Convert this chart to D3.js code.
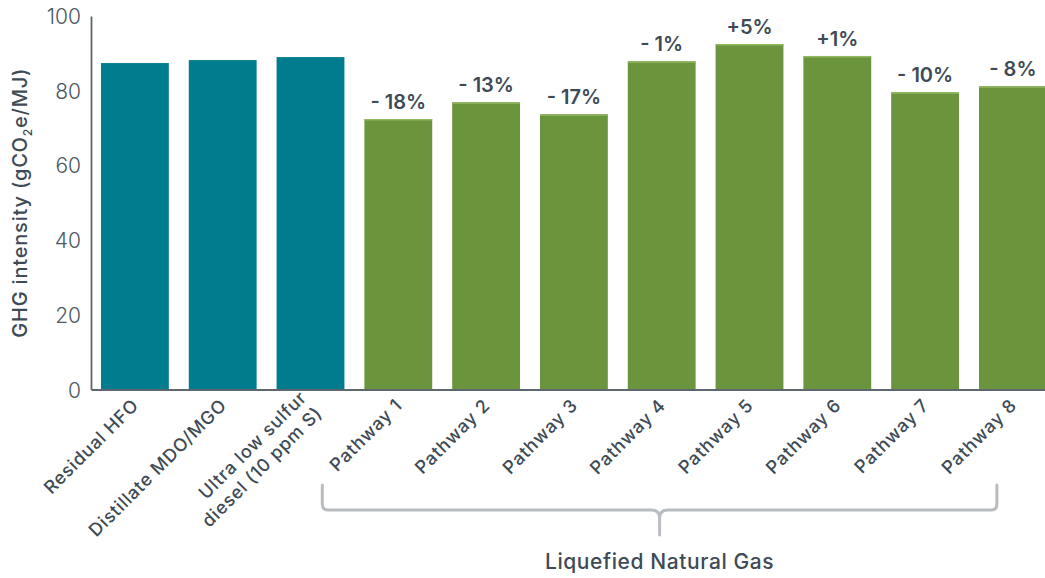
<!DOCTYPE html>
<html>
<head>
<meta charset="utf-8">
<script src="https://cdn.jsdelivr.net/npm/d3@7"></script>
<style>
  html, body { margin: 0; padding: 0; background: #ffffff; }
  svg { display: block; font-family: Inter, "Open Sans", sans-serif; }
</style>
</head>
<body>
<svg id="chart" width="1045" height="578"></svg>
<script>
// Fuel categories, in drawing order
const categories = [
  "Residual HFO", "Distillate MDO/MGO", "Ultra low sulfur diesel (10 ppm S)",
  "Pathway 1", "Pathway 2", "Pathway 3", "Pathway 4",
  "Pathway 5", "Pathway 6", "Pathway 7", "Pathway 8"
];
// Axis labels (one entry per category, split into lines)
const tickLabels = [
  ["Residual HFO"], ["Distillate MDO/MGO"], ["Ultra low sulfur", "diesel (10 ppm S)"],
  ["Pathway 1"], ["Pathway 2"], ["Pathway 3"], ["Pathway 4"],
  ["Pathway 5"], ["Pathway 6"], ["Pathway 7"], ["Pathway 8"]
];
// GHG intensity, gCO2e/MJ
const values = [87.4, 88.2, 89.0, 72.4, 76.9, 73.7, 87.9, 92.5, 89.3, 79.6, 81.2];
// Change relative to conventional marine fuel
const changeLabels = ["", "", "", "- 18%", "- 13%", "- 17%", "- 1%", "+5%", "+1%", "- 10%", "- 8%"];
// Fuel family of each bar
const groups = ["oil", "oil", "oil", "lng", "lng", "lng", "lng", "lng", "lng", "lng", "lng"];
const yTicks = [0, 20, 40, 60, 80, 100];
const bracketLabel = "Liquefied Natural Gas";

const colors = { oil: "#007c8f", lng: "#6b953c" };
const textColor = "#3e4a55";
const axisColor = "#5f676e";
const font = "Inter, 'Open Sans', sans-serif";

const svg = d3.select("#chart");
const axisX = 91, baseY = 389.5, topY = 16;

const x = d3.scaleBand()
  .domain(categories)
  .range([axisX, axisX + 11 * 87.8])
  .paddingInner(20 / 88)
  .paddingOuter(10 / 88);

const y = d3.scaleLinear().domain([0, 100]).range([baseY, topY]);

const rows = categories.map((c, i) => ({
  cat: c, value: values[i], label: changeLabels[i], group: groups[i], lines: tickLabels[i]
}));

// Bars
svg.append("g").selectAll("rect")
  .data(rows)
  .join("rect")
  .attr("x", d => x(d.cat))
  .attr("y", d => y(d.value))
  .attr("width", x.bandwidth())
  .attr("height", d => y(0) - y(d.value))
  .attr("fill", d => colors[d.group]);

// Light highlight along the top edge of the LNG bars
svg.append("g").selectAll("line")
  .data(rows.filter(d => d.group === "lng"))
  .join("line")
  .attr("x1", d => x(d.cat))
  .attr("x2", d => x(d.cat) + x.bandwidth())
  .attr("y1", d => y(d.value) + 0.75)
  .attr("y2", d => y(d.value) + 0.75)
  .attr("stroke", "#93b862")
  .attr("stroke-width", 1.5);

// Percentage change labels
svg.append("g").selectAll("text")
  .data(rows.filter(d => d.label))
  .join("text")
  .attr("x", d => x(d.cat) + x.bandwidth() / 2)
  .attr("y", d => y(d.value) - 10)
  .attr("text-anchor", "middle")
  .attr("font-size", 20)
  .attr("font-weight", 600)
  .attr("fill", textColor)
  .text(d => d.label);

// Y axis
const yAxis = svg.append("g")
  .attr("transform", `translate(${axisX},0)`)
  .call(d3.axisLeft(y).tickValues(yTicks).tickSize(0).tickPadding(10));
yAxis.select(".domain").attr("stroke", axisColor).attr("stroke-width", 1.8);
yAxis.selectAll("text")
  .attr("font-family", font)
  .attr("font-size", 21)
  .attr("font-weight", 300)
  .attr("fill", "#4c5761")
  .attr("dy", "0.36em");

// X axis
const xAxis = svg.append("g")
  .attr("transform", `translate(0,${baseY})`)
  .call(d3.axisBottom(x).tickSize(0).tickFormat(""));
xAxis.select(".domain").attr("stroke", axisColor).attr("stroke-width", 1.8);

const lineH = 22;
xAxis.selectAll(".tick").each(function (cat) {
  const lines = tickLabels[categories.indexOf(cat)];
  const t = d3.select(this).append("text")
    .attr("transform", "translate(5,17) rotate(-45)")
    .attr("text-anchor", "end")
    .attr("font-family", font)
    .attr("font-size", 18)
    .attr("font-weight", 500)
    .attr("letter-spacing", 0.8)
    .attr("fill", textColor);
  lines.forEach((ln, i) => {
    t.append("tspan")
      .attr("x", 0)
      .attr("y", (i - (lines.length - 1) / 2) * lineH)
      .text(ln);
  });
});

// Y axis title
const yTitle = svg.append("text")
  .attr("transform", `translate(27,${(baseY + topY) / 2}) rotate(-90)`)
  .attr("text-anchor", "middle")
  .attr("font-size", 20)
  .attr("font-weight", 500)
  .attr("letter-spacing", 0.8)
  .attr("fill", textColor);
yTitle.append("tspan").text("GHG intensity (gCO");
yTitle.append("tspan").attr("font-size", 12).attr("dy", 5).text("2");
yTitle.append("tspan").attr("dy", -5).text("e/MJ)");

// Bracket grouping the LNG pathways
const cFirst = x("Pathway 1") + x.bandwidth() / 2;
const cLast = x("Pathway 8") + x.bandwidth() / 2;
const bL = cFirst - 76, bR = cLast - 16, bM = (bL + bR) / 2;
const bTop = 485, bY = 510, bTip = 535, r = 6;
const bracket = d3.path();
bracket.moveTo(bL, bTop);
bracket.lineTo(bL, bY - r);
bracket.quadraticCurveTo(bL, bY, bL + r, bY);
bracket.lineTo(bM - 8, bY);
bracket.quadraticCurveTo(bM, bY, bM, bY + 8);
bracket.lineTo(bM, bTip);
bracket.moveTo(bM, bY + 8);
bracket.quadraticCurveTo(bM, bY, bM + 8, bY);
bracket.lineTo(bR - r, bY);
bracket.quadraticCurveTo(bR, bY, bR, bY - r);
bracket.lineTo(bR, bTop);
svg.append("path")
  .attr("d", bracket.toString())
  .attr("fill", "none")
  .attr("stroke", "#b9bcc0")
  .attr("stroke-width", 3)
  .attr("stroke-linecap", "round");

svg.append("text")
  .attr("x", bM)
  .attr("y", 569)
  .attr("text-anchor", "middle")
  .attr("font-size", 21)
  .attr("font-weight", 500)
  .attr("letter-spacing", 0.6)
  .attr("fill", textColor)
  .text(bracketLabel);
</script>
</body>
</html>
